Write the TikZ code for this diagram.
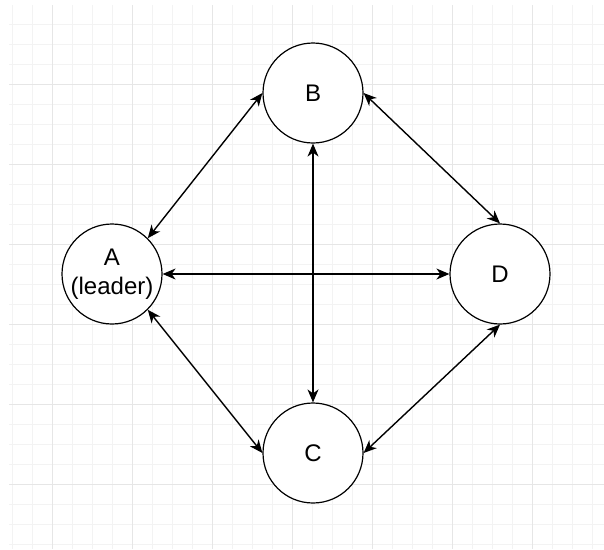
\documentclass[tikz,border=0pt]{standalone}
\usepackage{fontspec}
\setmainfont{Liberation Sans}
\usetikzlibrary{arrows.meta}
\definecolor{gridminor}{HTML}{F3F3F3}
\definecolor{gridmajor}{HTML}{E6E6E6}
\begin{document}
\begin{tikzpicture}[x=1pt,y=-1pt,
  peer/.style={draw, circle, line width=1.2pt, minimum size=100pt, inner sep=0pt,
    fill=white, font=\fontsize{24}{29}\selectfont, align=center},
  tip/.tip={Stealth[length=13pt,width=11pt,inset=4pt]},
  link/.style={line width=1.4pt, tip-tip},
  minorline/.style={gridminor, line width=1pt},
  majorline/.style={gridmajor, line width=1pt}]
\useasboundingbox (0,0) rectangle (604,549);
\fill[white] (0,0) rectangle (604,549);
% grid
\foreach \x in {12,32,...,592} \draw[minorline] (\x,5) -- (\x,549);
\foreach \y in {24,44,...,544} \draw[minorline] (9,\y) -- (604,\y);
\foreach \x in {52,132,...,532} \draw[majorline] (\x,5) -- (\x,549);
\foreach \y in {84,164,...,484} \draw[majorline] (9,\y) -- (604,\y);
% nodes
\node[peer] (A) at (112,274) {A\\(leader)};
\node[peer] (B) at (313,93) {B};
\node[peer] (C) at (313,453) {C};
\node[peer] (D) at (500,274) {D};
% links
\draw[link] (A.45) -- (B.west);
\draw[link] (A.-45) -- (C.west);
\draw[link] (B.east) -- (D.north);
\draw[link] (C.east) -- (D.south);
\draw[link] (A.east) -- (D.west);
\draw[link] (B.south) -- (C.north);
\end{tikzpicture}
\end{document}
